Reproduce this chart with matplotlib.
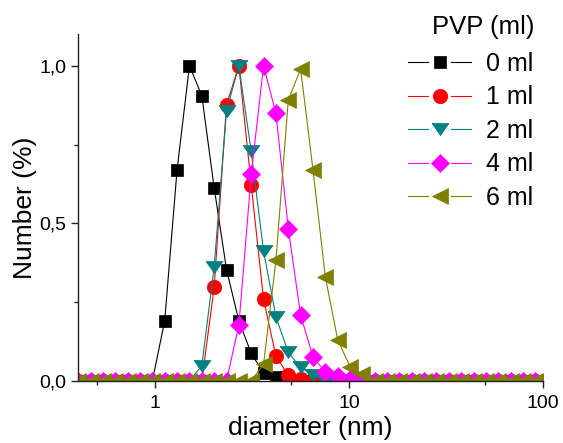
import matplotlib.pyplot as plt
from matplotlib.lines import Line2D
from matplotlib.legend_handler import HandlerBase
from matplotlib.ticker import FixedLocator, NullFormatter, FuncFormatter

plt.rcParams['font.family'] = ['Liberation Sans', 'DejaVu Sans']

# size classes (nm)
diameter = [0.4, 0.4632, 0.5365, 0.6213, 0.7195, 0.8332, 0.9649, 1.117, 1.294,
            1.499, 1.736, 2.010, 2.328, 2.696, 3.122, 3.615, 4.187, 4.849,
            5.615, 6.503, 7.531, 8.721, 10.10, 11.70, 13.54, 15.69, 18.17,
            21.04, 24.36, 28.21, 32.67, 37.84, 43.82, 50.75, 58.77, 68.06,
            78.82, 91.28, 105.7]

pvp_0 = [0, 0, 0, 0, 0, 0, 0, 0.19, 0.67, 1.0, 0.905, 0.613, 0.353, 0.19,
         0.087, 0.025, 0.013, 0, 0, 0, 0, 0, 0, 0, 0, 0, 0, 0, 0, 0, 0, 0,
         0, 0, 0, 0, 0, 0, 0]
pvp_1 = [0, 0, 0, 0, 0, 0, 0, 0, 0, 0, 0, 0.296, 0.876, 1.0, 0.622, 0.258,
         0.078, 0.017, 0.006, 0, 0, 0, 0, 0, 0, 0, 0, 0, 0, 0, 0, 0, 0, 0,
         0, 0, 0, 0, 0]
pvp_2 = [0, 0, 0, 0, 0, 0, 0, 0, 0, 0, 0.047, 0.361, 0.857, 1.0, 0.728,
         0.412, 0.203, 0.09, 0.042, 0.018, 0, 0, 0, 0, 0, 0, 0, 0, 0, 0, 0,
         0, 0, 0, 0, 0, 0, 0, 0]
pvp_4 = [0, 0, 0, 0, 0, 0, 0, 0, 0, 0, 0, 0, 0, 0.176, 0.655, 1.0, 0.849,
         0.483, 0.208, 0.076, 0.027, 0.015, 0.006, 0, 0, 0, 0, 0, 0, 0, 0,
         0, 0, 0, 0, 0, 0, 0, 0]
pvp_6 = [0, 0, 0, 0, 0, 0, 0, 0, 0, 0, 0, 0, 0, 0, 0, 0.052, 0.382, 0.891,
         0.99, 0.67, 0.33, 0.13, 0.045, 0.02, 0, 0, 0, 0, 0, 0, 0, 0, 0, 0,
         0, 0, 0, 0, 0]

labels = ['0 ml', '1 ml', '2 ml', '4 ml', '6 ml']
colors = ['black', '#ff0000', '#008080', '#ff00ff', '#808000']

# wide, flat down-triangle
tri_down = [(-1, 0.72), (1, 0.72), (0, -0.72), (-1, 0.72)]
markers = [('s', 9.1), ('o', 10.4), (tri_down, 12.2), ('D', 8.7), ('<', 11.5)]


class GapLineHandler(HandlerBase):
    """legend key: line - marker - line, with gaps round the marker"""
    def create_artists(self, legend, orig, xdescent, ydescent, width, height,
                       fontsize, trans):
        y = height / 2 - ydescent
        x0, x1 = -xdescent, -xdescent + width
        xm = (x0 + x1) / 2
        g = 0.185 * width
        c = orig.get_color()
        left = Line2D([x0, xm - g], [y, y], color=c, lw=orig.get_linewidth())
        right = Line2D([xm + g, x1], [y, y], color=c, lw=orig.get_linewidth())
        mk = Line2D([xm], [y], ls='none', marker=orig.get_marker(),
                    ms=orig.get_markersize(), color=c, mew=orig.get_markeredgewidth())
        for a in (left, right, mk):
            a.set_transform(trans)
        return [left, right, mk]


fig = plt.figure(figsize=(5.63, 4.43), dpi=100)
ax = fig.add_axes([0.139, 0.1406, 0.8255, 0.782])

lines = []
for y, lab, c, (m, ms) in zip([pvp_0, pvp_1, pvp_2, pvp_4, pvp_6], labels, colors, markers):
    ln, = ax.plot(diameter, y, color=c, lw=0.8, marker=m, ms=ms, mec=c, mfc=c,
                  mew=0.5, label=lab)
    lines.append(ln)

ax.set_xscale('log')
ax.set_xlim(0.4, 100)
ax.set_ylim(0, 1.1)

ax.xaxis.set_major_locator(FixedLocator([1, 10, 100]))
ax.xaxis.set_minor_locator(FixedLocator([0.5, 5, 50]))
ax.xaxis.set_major_formatter(FuncFormatter(lambda v, p: '%g' % v))
ax.xaxis.set_minor_formatter(NullFormatter())
ax.yaxis.set_major_locator(FixedLocator([0, 0.5, 1.0]))
ax.yaxis.set_minor_locator(FixedLocator([0.25, 0.75]))
ax.yaxis.set_major_formatter(FuncFormatter(lambda v, p: ('%.1f' % v).replace('.', ',')))

for s in ['top', 'right']:
    ax.spines[s].set_visible(False)
for s in ['left', 'bottom']:
    ax.spines[s].set_linewidth(1.0)
    ax.spines[s].set_color('#222222')
ax.tick_params(which='major', direction='out', length=5, width=1, labelsize=14,
               color='#222222')
ax.tick_params(which='major', axis='x', pad=5)
ax.tick_params(which='minor', direction='out', length=3, width=1, color='#222222')

ax.set_xlabel('diameter (nm)', fontsize=19, labelpad=3.5)
ax.set_ylabel('Number (%)', fontsize=19, labelpad=2)

# legend title placed on its own, entries below it
fig.text(0.949, 0.940, 'PVP (ml)', ha='right', va='center', fontsize=18.5)
leg = ax.legend(handles=lines, loc='upper right', bbox_to_anchor=(0.947, 0.883),
                bbox_transform=fig.transFigure, frameon=False, fontsize=18,
                handlelength=2.5, handletextpad=0.6, labelspacing=0.38,
                borderpad=0, borderaxespad=0,
                handler_map={Line2D: GapLineHandler()})

fig.savefig('out.png', dpi=100)
